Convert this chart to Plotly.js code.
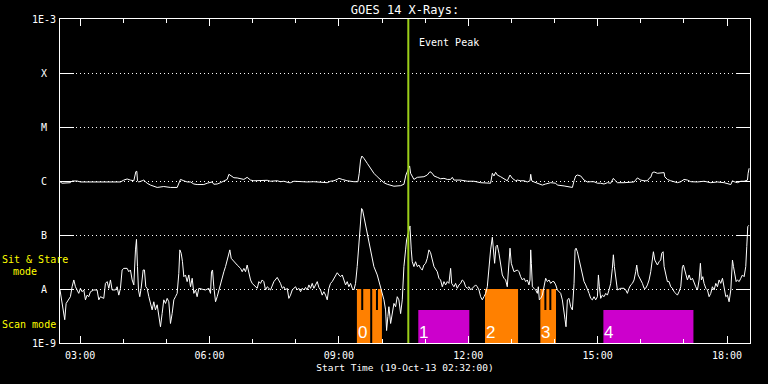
<!DOCTYPE html>
<html>
<head>
<meta charset="utf-8">
<script src="https://cdn.plot.ly/plotly-3.0.1.min.js"></script>
<style>
  html, body { margin: 0; padding: 0; background: #000; }
  #chart { width: 768px; height: 384px; }
</style>
</head>
<body>
<div id="chart"></div>
<script>
// ---- Data (time = minutes after start time 19-Oct-13 02:32:00) ----
const startLabel = "19-Oct-13 02:32:00";

// GOES 14, 1-8 Angstrom (upper curve), W/m^2
const longTime = [0,2.9,14.5,16.8,23.8,28.4,37.7,47.0,56.3,60.9,65.6,74.8,84.1,88.8,93.4,98.0,102.7,105.5,106.9,107.8,109.6,114.3,116.6,118.9,121.2,125.9,130.5,135.2,144.4,153.7,163.0,165.3,167.6,172.3,176.9,181.6,186.2,190.8,200.1,204.8,211.7,214.0,218.7,223.3,228.0,232.6,235.0,237.2,241.9,246.5,251.2,255.8,260.4,265.1,269.7,274.4,283.6,288.3,292.9,297.6,302.2,306.8,311.5,318.4,
320.7,325.4,334.7,343.9,353.2,362.5,371.8,376.4,381.1,385.7,388.0,392.7,399.6,408.9,414.5,416.3,418.2,420.0,422.8,427.5,432.1,436.7,441.4,446.0,450.7,455.3,460.0,464.6,473.9,478.5,481.3,483.1,486.4,487.8,490.1,492.4,497.1,501.7,506.3,511.0,514.7,517.9,520.3,524.9,529.5,534.2,538.8,543.5,545.8,548.1,557.4,566.7,575.9,585.2,594.5,599.1,601.5,603.8,606.1,608.4,613.1,617.7,622.3,626.1,629.3,634.0,
636.3,640.9,645.6,650.2,653.9,654.9,656.3,659.5,664.1,671.1,675.7,682.7,689.7,692.0,701.3,710.5,712.9,715.2,717.5,719.8,724.5,729.1,733.7,738.4,743.0,747.7,752.3,756.9,761.6,766.2,769.9,771.8,775.5,784.8,794.1,798.7,803.3,808.0,812.6,817.3,819.6,821.9,824.2,826.5,831.2,835.8,840.5,841.4,845.1,849.7,859.0,863.7,868.3,873.0,877.6,886.9,896.1,905.4,914.7,924.0,928.6,933.3,935.6,937.9,942.5,947.2,951.8,956.5,957.4,958.8];
const longFlux = [0.97e-6,0.91e-6,0.93e-6,1.0e-6,1.0e-6,0.96e-6,0.96e-6,0.96e-6,0.96e-6,0.93e-6,0.96e-6,0.93e-6,0.96e-6,1.04e-6,1.09e-6,1.04e-6,1.01e-6,1.49e-6,1.51e-6,1.01e-6,0.96e-6,1.01e-6,1.04e-6,0.97e-6,0.91e-6,0.84e-6,0.79e-6,0.76e-6,0.79e-6,0.76e-6,0.76e-6,0.91e-6,1.07e-6,1.01e-6,0.96e-6,0.96e-6,0.88e-6,0.86e-6,0.86e-6,0.91e-6,0.96e-6,0.87e-6,0.88e-6,0.93e-6,0.99e-6,1.07e-6,1.33e-6,1.27e-6,1.15e-6,1.14e-6,1.12e-6,1.07e-6,1.17e-6,1.04e-6,1.01e-6,1.01e-6,1.0e-6,1.03e-6,0.99e-6,0.99e-6,1.01e-6,0.97e-6,0.99e-6,0.93e-6,
0.93e-6,0.99e-6,0.97e-6,0.96e-6,0.97e-6,0.94e-6,0.93e-6,0.99e-6,1.01e-6,1.07e-6,1.12e-6,1.07e-6,1.01e-6,0.97e-6,0.97e-6,1.39e-6,2.45e-6,2.9e-6,2.63e-6,2.12e-6,1.72e-6,1.39e-6,1.20e-6,1.04e-6,0.93e-6,0.87e-6,0.82e-6,0.80e-6,0.82e-6,0.87e-6,1.29e-6,1.49e-6,1.90e-6,1.39e-6,1.17e-6,1.07e-6,1.17e-6,1.17e-6,1.20e-6,1.29e-6,1.49e-6,1.39e-6,1.24e-6,1.17e-6,1.10e-6,1.12e-6,1.07e-6,1.07e-6,1.17e-6,1.04e-6,1.04e-6,0.99e-6,0.99e-6,0.93e-6,0.93e-6,0.91e-6,1.39e-6,1.24e-6,1.45e-6,1.29e-6,1.20e-6,1.12e-6,1.01e-6,1.29e-6,1.12e-6,1.01e-6,
1.04e-6,1.01e-6,1.01e-6,0.96e-6,1.01e-6,1.33e-6,1.01e-6,0.96e-6,0.91e-6,0.84e-6,0.88e-6,0.93e-6,0.91e-6,0.84e-6,0.81e-6,0.76e-6,0.76e-6,1.01e-6,1.24e-6,1.29e-6,1.24e-6,1.04e-6,0.96e-6,0.97e-6,0.97e-6,0.91e-6,0.91e-6,0.88e-6,0.93e-6,0.91e-6,1.12e-6,1.04e-6,0.93e-6,0.93e-6,0.97e-6,0.96e-6,1.14e-6,1.04e-6,1.01e-6,1.01e-6,1.12e-6,1.17e-6,1.43e-6,1.47e-6,1.39e-6,1.39e-6,1.43e-6,1.20e-6,1.07e-6,1.01e-6,0.93e-6,0.97e-6,1.07e-6,1.04e-6,0.97e-6,0.96e-6,0.99e-6,0.93e-6,0.96e-6,0.93e-6,0.88e-6,0.86e-6,1.01e-6,0.97e-6,0.93e-6,0.99e-6,0.99e-6,1.04e-6,1.39e-6,1.72e-6];

// GOES 14, 0.5-4 Angstrom (lower curve), W/m^2
const shortTime = [0,1.5,5.2,6.6,8.5,11.3,14.5,16.8,19.2,21.5,23.8,26.1,28.4,30.8,33.1,35.4,37.7,40.0,42.4,47.0,51.6,54.0,56.3,60.9,63.2,65.6,67.9,70.2,72.5,77.2,79.5,81.8,84.1,86.4,88.8,93.4,95.7,98.0,100.4,102.7,105.0,106.4,107.8,109.2,111.0,112.9,115.7,117.5,119.4,121.2,123.6,125.9,128.2,130.5,132.8,135.2,137.5,139.8,142.1,144.4,146.8,149.1,151.4,153.7,156.0,158.4,160.7,163.0,165.3,166.7,168.6,170.4,172.3,174.6,176.9,179.2,181.6,183.9,186.2,188.5,190.8,193.2,197.8,202.4,207.1,209.4,210.8,212.2,214.0,216.4,218.7,221.0,223.3,225.6,228.0,230.3,232.6,236.3,238.2,241.9,246.5,251.2,253.5,255.8,258.1,260.4,262.8,265.1,267.4,272.0,274.4,276.7,279.0,281.3,283.6,286.0,288.3,292.9,295.2,297.6,302.2,304.5,306.8,309.2,311.5,313.8,316.1,
318.4,320.7,323.1,325.4,327.7,330.0,332.3,334.7,337.0,339.3,341.6,343.9,346.3,348.6,350.9,353.2,355.5,357.9,360.2,362.5,364.8,367.1,369.5,371.8,374.1,376.4,378.7,381.1,385.7,388.0,390.3,392.7,395.0,397.3,399.6,401.9,404.3,406.6,408.9,411.2,413.5,415.9,418.2,419.6,421.0,422.8,427.5,432.1,436.7,441.4,446.0,450.7,453.0,454.4,456.2,457.6,460.0,462.3,464.6,466.9,469.2,471.5,473.9,476.2,478.5,480.8,482.2,484.5,486.9,488.7,490.1,492.4,494.7,497.1,499.4,501.7,504.0,506.3,508.7,511.0,513.3,515.6,517.9,520.3,524.9,527.2,529.5,531.9,534.2,536.5,538.8,541.1,543.5,544.9,548.1,550.4,552.7,555.1,557.4,559.7,562.0,564.3,566.7,569.0,571.3,573.6,575.9,578.3,580.6,582.9,585.2,587.5,589.9,592.2,594.5,596.8,599.1,601.5,602.9,604.7,606.6,608.4,610.7,613.1,615.4,617.7,620.0,622.3,624.7,626.1,627.9,629.8,631.6,636.3,
638.6,640.9,643.3,645.6,647.9,650.2,652.5,653.9,654.9,655.8,657.2,659.5,661.8,664.1,665.5,666.9,668.8,671.1,673.4,675.7,678.1,680.4,682.7,685.0,687.3,689.7,692.0,694.3,696.6,698.9,701.3,702.7,704.0,705.9,708.2,710.5,712.9,715.2,716.6,718.0,719.8,722.1,724.5,726.8,729.1,731.4,733.7,736.1,738.4,740.7,743.0,745.3,747.7,749.1,750.4,752.3,754.6,756.9,759.3,761.6,763.9,766.2,768.5,769.9,771.3,773.2,775.5,780.1,784.8,787.1,789.4,791.7,794.1,796.4,798.7,801.0,802.4,804.3,805.7,808.0,810.3,812.6,814.9,817.3,819.6,821.9,824.2,825.6,827.5,829.3,831.2,833.5,835.8,837.2,839.1,840.5,842.8,845.1,847.4,849.7,852.1,854.4,856.7,859.0,861.3,863.7,866.0,867.4,869.2,871.1,872.9,875.3,877.6,879.9,882.2,884.5,886.9,889.2,891.0,892.4,894.3,896.1,898.5,900.8,903.1,905.4,907.7,910.1,912.4,914.7,917.0,919.3,921.7,924.0,926.3,928.6,930.9,933.3,935.6,937.0,938.8,940.7,942.5,944.9,947.2,949.5,951.8,954.1,955.5,956.9,958.3];
const shortFlux = [0.96e-8,0.72e-8,0.33e-8,0.27e-8,0.54e-8,0.63e-8,0.72e-8,1.1e-8,1.47e-8,1.1e-8,0.96e-8,0.83e-8,1.03e-8,0.89e-8,0.96e-8,0.63e-8,0.77e-8,0.72e-8,0.89e-8,0.96e-8,0.96e-8,0.63e-8,0.72e-8,0.67e-8,1.27e-8,1.37e-8,1.03e-8,1.47e-8,0.96e-8,0.96e-8,1.1e-8,0.77e-8,1.03e-8,2.25e-8,2.41e-8,2.41e-8,2.09e-8,2.25e-8,1.47e-8,1.19e-8,5.3e-8,8.3e-8,2.6e-8,0.96e-8,0.72e-8,1.03e-8,2.25e-8,2.25e-8,1.1e-8,1.03e-8,0.72e-8,0.54e-8,0.41e-8,0.58e-8,0.41e-8,0.51e-8,0.33e-8,0.20e-8,0.35e-8,0.63e-8,0.54e-8,0.67e-8,0.58e-8,0.23e-8,0.35e-8,0.63e-8,0.72e-8,0.83e-8,1.95e-8,5.3e-8,4.6e-8,3.2e-8,1.69e-8,1.82e-8,1.37e-8,1.82e-8,1.1e-8,1.58e-8,0.83e-8,0.96e-8,0.72e-8,1.03e-8,0.99e-8,0.96e-8,1.03e-8,0.83e-8,2.09e-8,2.25e-8,1.1e-8,0.58e-8,0.72e-8,0.96e-8,1.27e-8,1.69e-8,2.09e-8,2.6e-8,3.44e-8,5.3e-8,3.7e-8,3.2e-8,2.78e-8,2.41e-8,2.09e-8,2.41e-8,2.09e-8,2.78e-8,1.95e-8,1.47e-8,1.27e-8,1.1e-8,1.03e-8,1.37e-8,1.27e-8,1.47e-8,1.37e-8,0.96e-8,1.1e-8,0.96e-8,1.19e-8,1.37e-8,1.64e-8,1.47e-8,1.27e-8,1.03e-8,1.1e-8,0.96e-8,1.03e-8,
0.67e-8,0.77e-8,0.96e-8,1.03e-8,1.1e-8,0.96e-8,1.03e-8,0.89e-8,1.03e-8,0.96e-8,1.07e-8,0.96e-8,1.19e-8,1.03e-8,1.27e-8,1.03e-8,1.19e-8,1.37e-8,1.07e-8,0.96e-8,0.77e-8,0.89e-8,0.77e-8,0.63e-8,1.03e-8,1.27e-8,1.37e-8,1.58e-8,2.0e-8,1.82e-8,1.69e-8,1.82e-8,1.47e-8,1.19e-8,1.37e-8,1.1e-8,1.27e-8,1.03e-8,0.96e-8,1.27e-8,2.6e-8,8.1e-8,25e-8,31e-8,29e-8,22e-8,10.7e-8,5.3e-8,2.6e-8,1.82e-8,1.1e-8,0.63e-8,0.41e-8,0.17e-8,0.31e-8,0.47e-8,0.23e-8,0.35e-8,0.54e-8,0.47e-8,0.72e-8,0.63e-8,0.35e-8,0.63e-8,2.6e-8,5.3e-8,8.1e-8,10.7e-8,14.7e-8,5.3e-8,3.2e-8,2.6e-8,3.2e-8,2.6e-8,2.78e-8,2.41e-8,2.25e-8,2.78e-8,2.99e-8,3.7e-8,5.3e-8,4.7e-8,3.7e-8,2.6e-8,2.09e-8,1.58e-8,1.47e-8,1.1e-8,1.37e-8,1.19e-8,1.37e-8,1.27e-8,2.41e-8,1.27e-8,1.1e-8,1.27e-8,1.03e-8,1.19e-8,1.27e-8,1.47e-8,1.37e-8,1.1e-8,1.03e-8,1.1e-8,0.96e-8,1.03e-8,1.1e-8,1.19e-8,1.1e-8,0.96e-8,0.72e-8,0.63e-8,0.72e-8,0.83e-8,1.1e-8,2.6e-8,5.3e-8,9.1e-8,4.6e-8,2.99e-8,6.1e-8,6.5e-8,4.6e-8,2.6e-8,1.82e-8,1.58e-8,1.47e-8,1.1e-8,3.97e-8,5.7e-8,2.99e-8,2.41e-8,2.09e-8,2.25e-8,
2.09e-8,1.69e-8,1.47e-8,1.58e-8,1.37e-8,1.47e-8,1.19e-8,1.47e-8,5.3e-8,2.99e-8,1.1e-8,1.03e-8,0.96e-8,0.83e-8,1.1e-8,0.63e-8,0.67e-8,0.77e-8,1.1e-8,1.58e-8,1.37e-8,1.47e-8,1.27e-8,1.37e-8,1.37e-8,1.19e-8,0.96e-8,0.89e-8,0.83e-8,0.63e-8,0.31e-8,0.27e-8,0.20e-8,0.63e-8,0.67e-8,0.47e-8,0.41e-8,1.27e-8,5.3e-8,5.7e-8,4.9e-8,3.44e-8,2.6e-8,1.95e-8,1.37e-8,1.19e-8,1.03e-8,0.83e-8,0.67e-8,0.63e-8,0.72e-8,0.63e-8,0.72e-8,1.82e-8,1.1e-8,0.67e-8,0.77e-8,0.72e-8,0.83e-8,0.77e-8,0.96e-8,1.27e-8,2.41e-8,4.3e-8,2.6e-8,1.47e-8,0.96e-8,1.03e-8,1.03e-8,0.96e-8,0.83e-8,1.03e-8,1.19e-8,1.27e-8,1.47e-8,2.09e-8,2.78e-8,1.82e-8,1.69e-8,1.47e-8,1.27e-8,1.03e-8,1.03e-8,1.19e-8,1.47e-8,2.09e-8,4.3e-8,4.9e-8,3.44e-8,2.99e-8,2.78e-8,3.2e-8,3.44e-8,4.6e-8,4.9e-8,2.6e-8,1.82e-8,1.37e-8,1.37e-8,1.1e-8,1.03e-8,0.89e-8,0.83e-8,0.77e-8,0.89e-8,1.1e-8,2.6e-8,2.78e-8,2.25e-8,1.82e-8,1.47e-8,1.82e-8,1.47e-8,1.58e-8,1.27e-8,1.1e-8,0.96e-8,1.47e-8,2.99e-8,1.47e-8,1.69e-8,1.27e-8,1.03e-8,0.96e-8,0.72e-8,0.83e-8,1.1e-8,0.96e-8,1.27e-8,1.1e-8,1.47e-8,1.27e-8,1.58e-8,0.96e-8,0.72e-8,0.77e-8,0.58e-8,0.96e-8,3.44e-8,2.6e-8,1.82e-8,1.37e-8,1.47e-8,1.37e-8,1.58e-8,1.82e-8,1.69e-8,2.6e-8,6.1e-8,14.3e-8,15.1e-8];

// Observation intervals (minutes after start), mode and observation number
const obsStart = [413.1,419.1,421.9,434.4,439.6,442.4,498.5,591.3,668.3,673.9,676.7,680.8,683.6,756.0];
const obsEnd   = [419.1,421.9,431.6,439.6,442.4,447.9,569.5,637.3,673.9,676.7,680.8,683.6,690.1,881.3];
const obsMode  = ["stare","scan","stare","stare","scan","stare","scan","stare","stare","scan","stare","scan","stare","scan"];
const obsId    = [0,0,0,0,0,0,1,2,3,3,3,3,3,4];
const modeTop  = {stare: 1e-8, scan: 4.1e-9};

// Event peak time (minutes after start)
const eventPeak = 484.6;

// GOES class levels and their labels
const classValues = [1e-9, 1e-8, 1e-7, 1e-6, 1e-5, 1e-4, 1e-3];
const classLabels = ["1E-9", "A", "B", "C", "M", "X", "1E-3"];

// ---- Helpers ----
const START_MS = Date.UTC(2013, 9, 19, 2, 32, 0);
function toDate(m) {
  return new Date(START_MS + m * 60000).toISOString().replace("T", " ").slice(0, 19);
}
const X_RANGE = [toDate(0), toDate(960)];
const Y_MIN = 1e-9, Y_MAX = 1e-3;

const ORANGE = "#ff8000", MAGENTA = "#cc00cc", GREEN = "#9ccf1a", YELLOW = "#ffff00";

// Build stepped polygons per observation number
const ids = [...new Set(obsId)];
const fillX = {orange: [], magenta: []};
const fillY = {orange: [], magenta: []};
const blockLabels = [];
ids.forEach(id => {
  const idx = obsId.map((v, i) => v === id ? i : -1).filter(i => i >= 0)
                   .sort((a, b) => obsStart[a] - obsStart[b]);
  const hasStare = idx.some(i => obsMode[i] === "stare");
  const key = hasStare ? "orange" : "magenta";
  const xs = fillX[key], ys = fillY[key];
  if (xs.length) { xs.push(null); ys.push(null); }
  xs.push(toDate(obsStart[idx[0]])); ys.push(Y_MIN);
  idx.forEach((i, k) => {
    const top = modeTop[obsMode[i]];
    xs.push(toDate(obsStart[i])); ys.push(top);
    xs.push(toDate(obsEnd[i])); ys.push(top);
    const next = idx[k + 1];
    if (next !== undefined && obsStart[next] > obsEnd[i] + 0.01) {
      xs.push(toDate(obsEnd[i])); ys.push(Y_MIN);
      xs.push(null); ys.push(null);
      xs.push(toDate(obsStart[next])); ys.push(Y_MIN);
    }
  });
  xs.push(toDate(obsEnd[idx[idx.length - 1]])); ys.push(Y_MIN);
  blockLabels.push({x: toDate(obsStart[idx[0]]), text: String(id)});
});

const traces = [
  {x: fillX.orange, y: fillY.orange, type: "scatter", mode: "lines", fill: "toself",
   fillcolor: ORANGE, line: {width: 0, color: ORANGE}, connectgaps: false, hoverinfo: "skip"},
  {x: fillX.magenta, y: fillY.magenta, type: "scatter", mode: "lines", fill: "toself",
   fillcolor: MAGENTA, line: {width: 0, color: MAGENTA}, connectgaps: false, hoverinfo: "skip"},
  {x: longTime.map(toDate), y: longFlux, type: "scatter", mode: "lines",
   line: {color: "#ffffff", width: 1}},
  {x: shortTime.map(toDate), y: shortFlux, type: "scatter", mode: "lines",
   line: {color: "#ffffff", width: 1}},
  {x: [toDate(eventPeak), toDate(eventPeak)], y: [Y_MIN, Y_MAX], type: "scatter", mode: "lines",
   line: {color: GREEN, width: 2}}
];

const MONO = "DejaVu Sans Mono";
const annotations = [];
classLabels.forEach((t, i) => annotations.push({
  xref: "paper", x: 0, xshift: -16, xanchor: "center",
  yref: "y", y: Math.log10(classValues[i]), yanchor: "middle",
  text: t, showarrow: false, borderpad: 0,
  font: {family: MONO, size: 10, color: "#ffffff"}
}));
annotations.push(
  {xref: "paper", x: 0, xshift: -59, xanchor: "left", yref: "paper", y: 0.2583, yanchor: "middle",
   text: "Sit & Stare", showarrow: false, borderpad: 0, font: {family: MONO, size: 10, color: YELLOW}},
  {xref: "paper", x: 0, xshift: -48, xanchor: "left", yref: "paper", y: 0.2222, yanchor: "middle",
   text: "mode", showarrow: false, borderpad: 0, font: {family: MONO, size: 10, color: YELLOW}},
  {xref: "paper", x: 0, xshift: -59, xanchor: "left", yref: "paper", y: 0.0586, yanchor: "middle",
   text: "Scan mode", showarrow: false, borderpad: 0, font: {family: MONO, size: 10, color: YELLOW}},
  {xref: "x", x: toDate(eventPeak), xshift: 10, xanchor: "left", yref: "paper", y: 0.9275, yanchor: "middle",
   text: "Event Peak", showarrow: false, borderpad: 0, font: {family: MONO, size: 10, color: "#ffffff"}}
);
blockLabels.forEach(b => annotations.push({
  xref: "x", x: b.x, xshift: 0, xanchor: "left", yref: "paper", y: 0, yanchor: "bottom",
  text: b.text, showarrow: false, borderpad: 0,
  font: {family: "Liberation Sans", size: 17, color: "#ffffff"}
}));

const layout = {
  width: 768, height: 384,
  margin: {l: 60, r: 18, t: 19, b: 41},
  paper_bgcolor: "#000000", plot_bgcolor: "#000000",
  showlegend: false,
  title: {text: "GOES 14 X-Rays:", x: 0.5, xref: "paper", xanchor: "center",
          y: 0.975, yref: "container", yanchor: "middle",
          font: {family: MONO, size: 12, color: "#ffffff"}},
  xaxis: {
    type: "date", range: X_RANGE,
    tick0: "2013-10-19 00:00:00", dtick: 3 * 3600000, tickformat: "%H:%M",
    ticks: "inside", ticklen: 7, tickcolor: "#ffffff", tickwidth: 1,
    minor: {dtick: 3600000, ticks: "inside", ticklen: 4, tickcolor: "#ffffff", showgrid: false},
    showline: true, linecolor: "#ffffff", linewidth: 1, mirror: "allticks",
    showgrid: false, zeroline: false,
    tickfont: {family: MONO, size: 10, color: "#ffffff"},
    ticklabelstandoff: 3,
    title: {text: "Start Time (" + startLabel + ")", standoff: 4,
            font: {family: MONO, size: 9.5, color: "#ffffff"}},
    automargin: false, fixedrange: true
  },
  yaxis: {
    type: "log", range: [Math.log10(Y_MIN), Math.log10(Y_MAX)],
    tickvals: classValues.slice(1, -1), showticklabels: false,
    ticks: "inside", ticklen: 14, tickcolor: "#ffffff", tickwidth: 1,
    showline: true, linecolor: "#ffffff", linewidth: 1, mirror: "allticks",
    showgrid: true, gridcolor: "#ffffff", gridwidth: 1, griddash: "1px,3px",
    zeroline: false, automargin: false, fixedrange: true
  },
  annotations: annotations
};

Plotly.newPlot("chart", traces, layout, {staticPlot: true, displayModeBar: false});
</script>
</body>
</html>
